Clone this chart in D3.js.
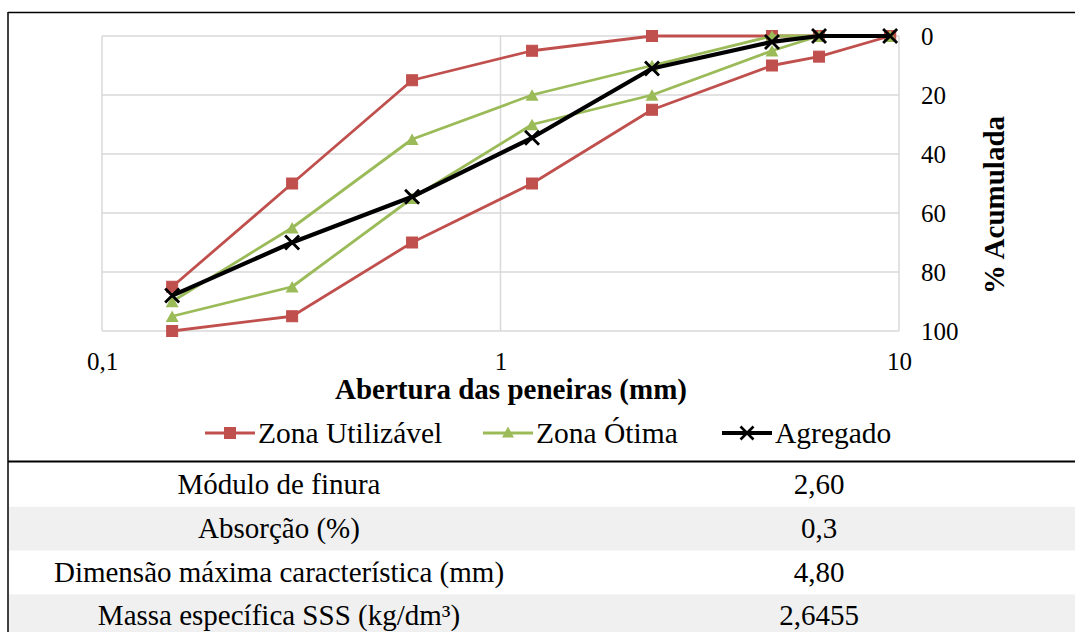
<!DOCTYPE html>
<html>
<head>
<meta charset="utf-8">
<script src="https://cdn.jsdelivr.net/npm/d3@7"></script>
<style>
  html, body { margin: 0; padding: 0; background: #fff; }
  svg { display: block; }
  text { font-family: "Liberation Serif", "Times New Roman", serif; fill: #000; }
</style>
</head>
<body>
<svg id="chart" width="1075" height="632"></svg>
<script>
// Sieve openings (mm) and cumulative retained percentages
const sieves = [0.15, 0.3, 0.6, 1.2, 2.4, 4.8, 6.3, 9.5];
const utilLower = [85, 50, 15, 5, 0, 0, 0, 0];
const utilUpper = [100, 95, 70, 50, 25, 10, 7, 0];
const otimaLower = [90, 65, 35, 20, 10, 0, 0, 0];
const otimaUpper = [95, 85, 55, 30, 20, 5, 0, 0];
const agregado = [88, 70, 54.5, 34.5, 11, 2, 0, 0];

// Axis ticks
const xTicks = [0.1, 1, 10];
const xTickLabels = ["0,1", "1", "10"];
const yTicks = [0, 20, 40, 60, 80, 100];

// Legend entries
const legendNames = ["Zona Utilizável", "Zona Ótima", "Agregado"];

// Property table
const propertyLabels = ["Módulo de finura", "Absorção (%)", "Dimensão máxima característica (mm)", "Massa específica SSS (kg/dm³)"];
const propertyValues = ["2,60", "0,3", "4,80", "2,6455"];

const RED = "#C0504D", GREEN = "#9BBB59", BLACK = "#000000";
const SERIF = "Liberation Serif, Times New Roman, serif";

const svg = d3.select("#chart");

const x = d3.scaleLog().domain([0.1, 10]).range([102, 899]);
const y = d3.scaleLinear().domain([0, 100]).range([36, 331]);

// Outer frame of the figure cell
svg.append("line").attr("x1", 8).attr("x2", 1075).attr("y1", 12.5).attr("y2", 12.5)
  .attr("stroke", "#000").attr("stroke-width", 1.5);
svg.append("line").attr("x1", 8).attr("x2", 8).attr("y1", 12).attr("y2", 632)
  .attr("stroke", "#000").attr("stroke-width", 1.5);

// Gridlines
const grid = svg.append("g");
grid.selectAll("line.h").data(yTicks).join("line")
  .attr("x1", x(0.1)).attr("x2", x(10))
  .attr("y1", d => y(d)).attr("y2", d => y(d))
  .attr("stroke", "#D9D9D9").attr("stroke-width", 1.5);
grid.selectAll("line.v").data(xTicks).join("line")
  .attr("x1", d => x(d)).attr("x2", d => x(d))
  .attr("y1", y(0)).attr("y2", y(100))
  .attr("stroke", "#D9D9D9").attr("stroke-width", 1.5);

// Axes
const xAxis = d3.axisBottom(x).tickValues(xTicks)
  .tickFormat((d, i) => xTickLabels[i]).tickSize(0).tickPadding(21);
const gx = svg.append("g").attr("transform", `translate(0,${y(100)})`).call(xAxis);
gx.select(".domain").remove();
gx.attr("font-family", SERIF).attr("font-size", 25);
gx.selectAll("text").attr("fill", "#000");

const yAxis = d3.axisRight(y).tickValues(yTicks).tickSize(0).tickPadding(22);
const gy = svg.append("g").attr("transform", `translate(${x(10)},0)`).call(yAxis);
gy.select(".domain").remove();
gy.attr("font-family", SERIF).attr("font-size", 25);
gy.selectAll("text").attr("fill", "#000");

svg.append("text").attr("x", 511).attr("y", 399).attr("text-anchor", "middle")
  .attr("font-size", 29).attr("font-weight", "bold").text("Abertura das peneiras (mm)");
svg.append("text").attr("transform", "translate(1004,205) rotate(-90)").attr("text-anchor", "middle")
  .attr("font-size", 29).attr("font-weight", "bold").text("% Acumulada");

// Marker drawers
function square(g, cx, cy, s, color) {
  g.append("rect").attr("x", cx - s / 2).attr("y", cy - s / 2).attr("width", s).attr("height", s)
    .attr("fill", color).attr("stroke", color).attr("stroke-width", 1);
}
function triangle(g, cx, cy, s, color) {
  const h = s * 0.9;
  g.append("path").attr("d", `M${cx},${cy - h / 2}L${cx + s / 2},${cy + h / 2}L${cx - s / 2},${cy + h / 2}Z`)
    .attr("fill", color);
}
function cross(g, cx, cy, s, color, w) {
  const r = s / 2;
  g.append("path").attr("d", `M${cx - r},${cy - r}L${cx + r},${cy + r}M${cx - r},${cy + r}L${cx + r},${cy - r}`)
    .attr("stroke", color).attr("stroke-width", w).attr("fill", "none");
}

const line = d3.line().x(d => x(d[0])).y(d => y(d[1]));

const seriesList = [
  { values: utilLower, color: RED, width: 2.8, marker: "square" },
  { values: utilUpper, color: RED, width: 2.8, marker: "square" },
  { values: otimaLower, color: GREEN, width: 2.8, marker: "triangle" },
  { values: otimaUpper, color: GREEN, width: 2.8, marker: "triangle" },
  { values: agregado, color: BLACK, width: 4.2, marker: "cross" }
];

const plot = svg.append("g");
seriesList.forEach(s => {
  const pts = sieves.map((v, i) => [v, s.values[i]]);
  const g = plot.append("g");
  g.append("path").datum(pts).attr("d", line).attr("fill", "none")
    .attr("stroke", s.color).attr("stroke-width", s.width).attr("stroke-linejoin", "round");
  pts.forEach(p => {
    const cx = x(p[0]), cy = y(p[1]);
    if (s.marker === "square") square(g, cx, cy, 11, s.color);
    else if (s.marker === "triangle") triangle(g, cx, cy, 13, s.color);
    else cross(g, cx, cy, 14, s.color, 2.8);
  });
});

// Legend
const legendX = [205, 483, 722];
const legendY = 433;
const legend = svg.append("g");
legendNames.forEach((name, i) => {
  const lx = legendX[i];
  const color = [RED, GREEN, BLACK][i];
  legend.append("line").attr("x1", lx).attr("x2", lx + 50).attr("y1", legendY).attr("y2", legendY)
    .attr("stroke", color).attr("stroke-width", i === 2 ? 4 : 3.2);
  if (i === 0) square(legend, lx + 25, legendY, 11, color);
  else if (i === 1) triangle(legend, lx + 25, legendY - 1, 12, color);
  else cross(legend, lx + 25, legendY, 13, color, 2.6);
  legend.append("text").attr("x", lx + 53).attr("y", legendY + 10).attr("font-size", 29.5).text(name);
});

// Property table
const rowTop = 462, rowH = 43.8;
svg.append("line").attr("x1", 8).attr("x2", 1075).attr("y1", 461.5).attr("y2", 461.5)
  .attr("stroke", "#000").attr("stroke-width", 2);
const table = svg.append("g");
propertyLabels.forEach((lab, i) => {
  const top = rowTop + 1 + i * rowH;
  if (i % 2 === 1) {
    table.append("rect").attr("x", 9).attr("y", top).attr("width", 1066).attr("height", rowH)
      .attr("fill", "#F0F0F0");
  }
  table.append("text").attr("x", 279).attr("y", top + rowH / 2 + 9).attr("text-anchor", "middle")
    .attr("font-size", 29).text(lab);
  table.append("text").attr("x", 819).attr("y", top + rowH / 2 + 9).attr("text-anchor", "middle")
    .attr("font-size", 29).text(propertyValues[i]);
});
</script>
</body>
</html>
